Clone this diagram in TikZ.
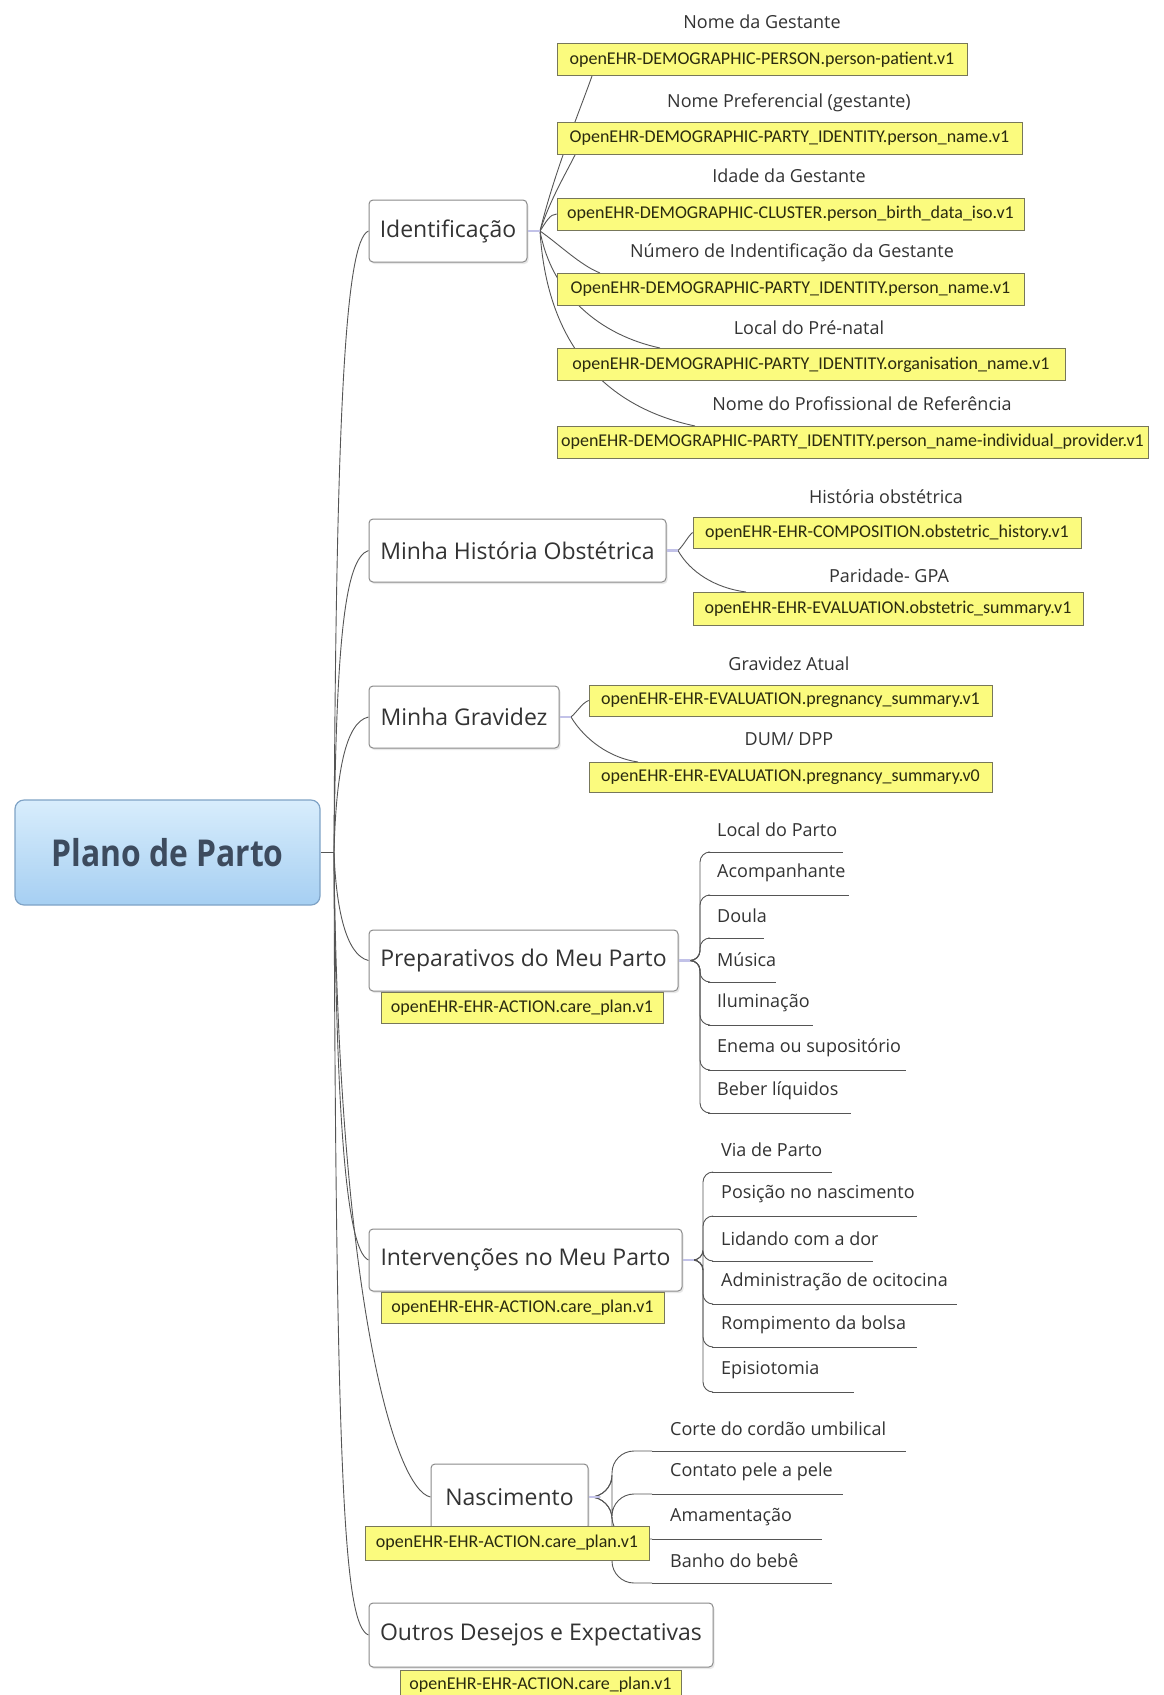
\documentclass[tikz,border=0pt]{standalone}
\usepackage{fontspec}
\setmainfont{Open Sans}
\newfontfamily\mainf{Open Sans}
\newfontfamily\rootf[FakeStretch=0.86]{Open Sans}
\newfontfamily\labf{Carlito}
\usetikzlibrary{shadows}
\pgfdeclarelayer{links}
\pgfsetlayers{links,main}
\definecolor{conncol}{HTML}{555555}
\definecolor{boxborder}{HTML}{8A8A8A}
\definecolor{txtcol}{HTML}{333333}
\definecolor{ytext}{HTML}{2A2A10}
\definecolor{yfill}{HTML}{FBFB7E}
\definecolor{yborder}{HTML}{77775A}
\definecolor{rootborder}{HTML}{7FA3C6}
\definecolor{roottop}{HTML}{D8EDFC}
\definecolor{rootbot}{HTML}{A6CFF2}
\definecolor{roottext}{HTML}{3D4B5E}
\definecolor{markcol}{HTML}{C2C2E8}
\begin{document}
\begin{tikzpicture}[x=1pt,y=-1pt,
  conn/.style={draw=conncol, line width=0.9pt},
  foldmark/.style={draw=markcol, line width=2.2pt},
  rootbox/.style={draw=rootborder, line width=1.2pt, rounded corners=9pt, top color=roottop, bottom color=rootbot,
    text=roottext, font=\rootf\bfseries\fontsize{37}{40}\selectfont, inner sep=0pt},
  mainbox/.style={draw=boxborder, line width=1pt, fill=white, rounded corners=4pt, text=txtcol,
    font=\mainf\fontsize{23}{27}\selectfont, inner sep=0pt,
    drop shadow={opacity=0.18, shadow xshift=1.5pt, shadow yshift=-2pt}},
  ybox/.style={draw=yborder, line width=0.7pt, fill=yfill, text=ytext, inner sep=0pt,
    font=\labf\fontsize{18}{20}\selectfont},
  lbl/.style={text=txtcol, font=\mainf\fontsize{18}{21}\selectfont, inner sep=0pt},
  utext/.style={text=txtcol, font=\mainf\fontsize{18}{21}\selectfont, inner sep=0pt, anchor=west}
]
\useasboundingbox (0,0) rectangle (1163,1695);
\begin{pgfonlayer}{links}
\fill[white] (0,0) rectangle (1163,1695);
\end{pgfonlayer}

% ---------- root ----------
\node[rootbox, minimum width=305, minimum height=105] (root) at (167.5,852.5) {Plano de Parto};
\coordinate (hub) at (334,852.5);

% ---------- main topics ----------
\node[mainbox, minimum width=158, minimum height=62] (ident) at (448,231) {Identificação};
\node[mainbox, minimum width=297, minimum height=63] (hist) at (517.5,550.5) {Minha História Obstétrica};
\node[mainbox, minimum width=190, minimum height=62] (grav) at (464,717) {Minha Gravidez};
\node[mainbox, minimum width=309, minimum height=61] (prep) at (523.5,960.5) {Preparativos do Meu Parto};
\node[mainbox, minimum width=313, minimum height=62] (interv) at (525.5,1260) {Intervenções no Meu Parto};
\node[mainbox, minimum width=157, minimum height=66] (nasc) at (509.5,1497) {Nascimento};
\node[mainbox, minimum width=344, minimum height=64] (outros) at (541,1635) {Outros Desejos e Expectativas};

% action labels
\node[ybox, minimum width=282, minimum height=31] (prepL) at (522,1007.5) {openEHR-EHR-ACTION.care\_plan.v1};
\node[ybox, minimum width=283, minimum height=31] (intervL) at (522.5,1308) {openEHR-EHR-ACTION.care\_plan.v1};
\node[ybox, minimum width=284, minimum height=34] (nascL) at (507,1543) {openEHR-EHR-ACTION.care\_plan.v1};
\node[ybox, minimum width=281, minimum height=30] (outrosL) at (540.5,1685) {openEHR-EHR-ACTION.care\_plan.v1};

% trunk connectors
\begin{pgfonlayer}{links}
\draw[conn] (root.east) -- (hub);
\draw[conn] (hub) .. controls (336,420) and (345,240) .. (ident.west);
\draw[conn] (hub) .. controls (336,640) and (345,558) .. (hist.west);
\draw[conn] (hub) .. controls (336,775) and (345,722) .. (grav.west);
\draw[conn] (hub) .. controls (336,905) and (345,955) .. (prep.west);
\draw[conn] (hub) .. controls (336,1100) and (345,1250) .. (interv.west);
\draw[conn] (hub) .. controls (338,1300) and (395,1490) .. (nasc.west);
\draw[conn] (hub) .. controls (336,1500) and (345,1625) .. (outros.west);
\end{pgfonlayer}

% ---------- Identificação children ----------
\node[ybox, minimum width=410, minimum height=32] (i1) at (762,59.5) {openEHR-DEMOGRAPHIC-PERSON.person-patient.v1};
\node[ybox, minimum width=465, minimum height=32] (i2) at (789.5,138.5) {OpenEHR-DEMOGRAPHIC-PARTY\_IDENTITY.person\_name.v1};
\node[ybox, minimum width=467, minimum height=32] (i3) at (790.5,214) {openEHR-DEMOGRAPHIC-CLUSTER.person\_birth\_data\_iso.v1};
\node[ybox, minimum width=467, minimum height=32] (i4) at (790.5,289.5) {OpenEHR-DEMOGRAPHIC-PARTY\_IDENTITY.person\_name.v1};
\node[ybox, minimum width=508, minimum height=32] (i5) at (811,364.5) {openEHR-DEMOGRAPHIC-PARTY\_IDENTITY.organisation\_name.v1};
\node[ybox, minimum width=591, minimum height=32] (i6) at (852.5,442) {openEHR-DEMOGRAPHIC-PARTY\_IDENTITY.person\_name-individual\_provider.v1};
\node[lbl] (t1) at (762,22) {Nome da Gestante};
\node[lbl] (t2) at (789,103) {Nome Preferencial (gestante)};
\node[lbl] (t3) at (789,176) {Idade da Gestante};
\node[lbl] (t4) at (792,253) {Número de Indentificação da Gestante};
\node[lbl] (t5) at (809,328) {Local do Pré-natal};
\node[lbl] (t6) at (862,404) {Nome do Profissional de Referência};

\coordinate (ihub) at (540,231);
\draw[foldmark] (ident.east) -- (ihub);
\coordinate (i1e) at (592,76);
\coordinate (i2e) at (575,155);
\coordinate (i4e) at (600,273);
\coordinate (i5e) at (660,348);
\coordinate (i6e) at (695,426);
\begin{pgfonlayer}{links}
\draw[conn] (ihub) .. controls (555,170) and (580,110) .. (i1e);
\draw[conn] (ihub) .. controls (550,200) and (565,175) .. (i2e);
\draw[conn] (ihub) .. controls (546,222) and (550,214) .. (i3.west);
\draw[conn] (ihub) .. controls (560,245) and (580,265) .. (i4e);
\draw[conn] (ihub) .. controls (552,295) and (600,335) .. (i5e);
\draw[conn] (ihub) .. controls (548,360) and (620,410) .. (i6e);
\end{pgfonlayer}

% ---------- História children ----------
\node[ybox, minimum width=388, minimum height=31] (h1) at (887,532.5) {openEHR-EHR-COMPOSITION.obstetric\_history.v1};
\node[ybox, minimum width=390, minimum height=33] (h2) at (888,608.5) {openEHR-EHR-EVALUATION.obstetric\_summary.v1};
\node[lbl] (ht1) at (886,497) {História obstétrica};
\node[lbl] (ht2) at (889,576) {Paridade- GPA};
\coordinate (hhub) at (678,550.5);
\coordinate (h2e) at (746,592);
\draw[foldmark] (hist.east) -- (hhub);
\begin{pgfonlayer}{links}
\draw[conn] (hhub) .. controls (684,545) and (688,536) .. (h1.west);
\draw[conn] (hhub) .. controls (690,572) and (715,588) .. (h2e);
\end{pgfonlayer}

% ---------- Gravidez children ----------
\node[ybox, minimum width=403, minimum height=31] (g1) at (790.5,700.5) {openEHR-EHR-EVALUATION.pregnancy\_summary.v1};
\node[ybox, minimum width=403, minimum height=30] (g2) at (790.5,777) {openEHR-EHR-EVALUATION.pregnancy\_summary.v0};
\node[lbl] (gt1) at (789,664) {Gravidez Atual};
\node[lbl] (gt2) at (789,739) {DUM/ DPP};
\coordinate (ghub) at (571,717);
\coordinate (g2e) at (638,762);
\draw[foldmark] (grav.east) -- (ghub);
\begin{pgfonlayer}{links}
\draw[conn] (ghub) .. controls (577,712) and (582,703) .. (g1.west);
\draw[conn] (ghub) .. controls (585,740) and (610,758) .. (g2e);
\end{pgfonlayer}

% ---------- Preparativos children ----------
\coordinate (phub) at (690,960.5);
\draw[foldmark] (prep.east) -- (phub);
\foreach \nm/\txt/\ly/\xr in {pa/Local do Parto/852/843, pb/Acompanhante/895/849, pc/Doula/938/764,
  pd/Música/982/776, pe/Iluminação/1025/813, pf/Enema ou supositório/1070/906, pg/Beber líquidos/1113/851}{
  \coordinate (\nm s) at (708,\ly);
  \coordinate (\nm e) at (\xr,\ly);
  \node[utext] (\nm) at (717,\ly-22) {\txt};
  \begin{pgfonlayer}{links}
  \draw[conn] (\nm s) -- (\nm e);
  \draw[conn, rounded corners=10pt] (phub) -- (700,960.5) |- (\nm s);
  \end{pgfonlayer}
}

% ---------- Intervenções children ----------
\coordinate (vhub) at (694,1260);
\draw[foldmark] (interv.east) -- (vhub);
\foreach \nm/\txt/\ly/\xr in {va/Via de Parto/1172/832, vb/Posição no nascimento/1216/917, vc/Lidando com a dor/1261/873,
  vd/Administração de ocitocina/1304/957, ve/Rompimento da bolsa/1347/917, vf/Episiotomia/1392/854}{
  \coordinate (\nm s) at (712,\ly);
  \coordinate (\nm e) at (\xr,\ly);
  \node[utext] (\nm) at (721,\ly-22) {\txt};
  \begin{pgfonlayer}{links}
  \draw[conn] (\nm s) -- (\nm e);
  \draw[conn, rounded corners=10pt] (vhub) -- (703,1260) |- (\nm s);
  \end{pgfonlayer}
}

% ---------- Nascimento children ----------
\coordinate (nhub) at (600,1497);
\draw[foldmark] (nasc.east) -- (nhub);
\foreach \nm/\txt/\ly/\xr in {na/Corte do cordão umbilical/1451/906, nb/Contato pele a pele/1494/843,
  nc/Amamentação/1539/822, nd/Banho do bebê/1583/832}{
  \coordinate (\nm s) at (652,\ly);
  \coordinate (\nm e) at (\xr,\ly);
  \node[utext] (\nm) at (670,\ly-22) {\txt};
  \begin{pgfonlayer}{links}
  \draw[conn] (\nm s) -- (\nm e);
  \draw[conn, rounded corners=22pt] (nhub) -- (612,1497) |- (\nm s);
  \end{pgfonlayer}
}
\end{tikzpicture}
\end{document}
